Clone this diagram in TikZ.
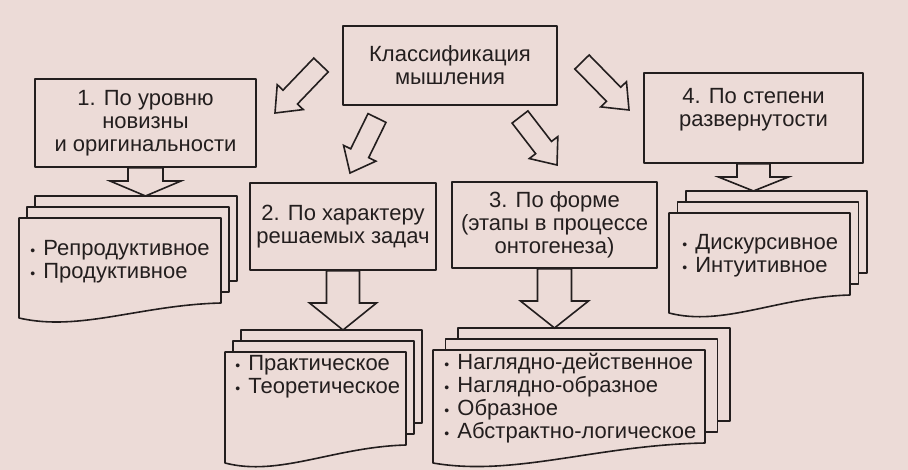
\documentclass[tikz,border=0pt]{standalone}
\usepackage{fontspec}
\setmainfont{Liberation Sans}
\usetikzlibrary{calc}

\definecolor{paper}{RGB}{236,219,215}
\definecolor{ink}{RGB}{35,30,30}

\tikzset{
  blk shaft/.store in=\blkshaft, blk shaft=5pt,
  blk head/.store in=\blkhead, blk head=9pt,
  blk len/.store in=\blklen, blk len=11pt,
  bigarrow/.style={draw=ink,line width=0.8pt,fill=paper,line join=miter,
    to path={($(\tikztostart)!\blkshaft!90:(\tikztotarget)$)
      -- ($(\tikztotarget)!\blklen!(\tikztostart)!\blkshaft!90:(\tikztotarget)$)
      -- ($(\tikztotarget)!\blklen!(\tikztostart)!\blkhead!90:(\tikztotarget)$)
      -- (\tikztotarget)
      -- ($(\tikztotarget)!\blklen!(\tikztostart)!\blkhead!-90:(\tikztotarget)$)
      -- ($(\tikztotarget)!\blklen!(\tikztostart)!\blkshaft!-90:(\tikztotarget)$)
      -- ($(\tikztostart)!\blkshaft!-90:(\tikztotarget)$) -- cycle}},
  sheet/.style={draw=ink,line width=0.8pt,fill=paper}
}

% small bullet of the lists
\newcommand{\itm}{\makebox[6.5pt][l]{\scriptsize\textbullet}}

% three sheets: left, top, right, bottom right, bottom left, step
\newcommand{\docstack}[6]{%
  \draw[sheet] ({#1+2*#6},{#2-22}) rectangle ({#3+2*#6},{#4-22});
  \draw[sheet] ({#1+#6},{#2-11}) rectangle ({#3+#6},{#4-11});
  \draw[sheet] (#1,#2) -- (#3,#2) -- (#3,#4)
    .. controls ({#3-0.4*(#3-#1)},{#4+2}) and ({#1+0.3*(#3-#1)},{#5+14}) .. (#1,#5) -- cycle;
}

\begin{document}
\begin{tikzpicture}[x=0.5pt,y=-0.5pt,line join=round,
  font=\fontsize{11}{11.5}\selectfont,
  box/.style={draw=ink,line width=0.8pt,fill=paper,align=center,inner sep=2pt,text=ink},
  list/.style={anchor=west,align=left,inner sep=0pt,text=ink}]
  \fill[paper] (0,0) rectangle (908,470);
  \useasboundingbox (0,0) rectangle (908,470);

  % boxes
  \node[box,minimum width=107pt,minimum height=39.5pt] (klass) at (450,65.5) {Классификация\\мышления};
  \node[box,minimum width=110.5pt,minimum height=44pt] (b1) at (145.5,123) {1. По уровню\\новизны\\и оригинальности};
  \node[box,minimum width=93pt,minimum height=43.5pt] (b2) at (343,226.5) {2. По характеру\\решаемых задач};
  \node[box,minimum width=102.5pt,minimum height=43pt] (b3) at (554.5,225) {3. По форме\\(этапы в процессе\\онтогенеза)};
  \node[box,minimum width=109.5pt,minimum height=45pt] (b4) at (753.5,118) {};
  \node[align=center,text=ink] (b4text) at (753.5,109.5) {4. По степени\\развернутости};

  % sheets
  \docstack{19}{218}{221}{303}{318}{8}
  \docstack{225}{352}{406}{445}{463}{8}
  \docstack{433}{350}{705}{443}{463}{12.5}
  \docstack{669}{213}{850}{295}{313}{8.5}

  \node[list] (l1) at (30,262) {\itm Репродуктивное\\\itm Продуктивное};
  \node[list] (l2) at (235,376.5) {\itm Практическое\\\itm Теоретическое};
  \node[list] (l3) at (444,398) {\itm Наглядно-действенное\\\itm Наглядно-образное\\\itm Образное\\\itm Абстрактно-логическое};
  \node[list] (l4) at (682,256) {\itm Дискурсивное\\\itm Интуитивное};

  % arrows from the title
  \coordinate (a1) at (321,65);  \coordinate (a1tip) at (275,113);
  \coordinate (a2) at (377,118); \coordinate (a2tip) at (350,173);
  \coordinate (a3) at (520,117); \coordinate (a3tip) at (557,165);
  \coordinate (a4) at (582,62);  \coordinate (a4tip) at (629,110);
  \draw[bigarrow] (a1) to (a1tip);
  \draw[bigarrow] (a2) to (a2tip);
  \draw[bigarrow] (a3) to (a3tip);
  \draw[bigarrow] (a4) to (a4tip);

  % arrows down to the lists
  \coordinate (v1) at (b1.south |- 0,196);
  \coordinate (v2) at (b2.south |- 0,330);
  \coordinate (v3) at (b3.south |- 0,328);
  \coordinate (v4) at (b4.south |- 0,191);
  \draw[bigarrow,blk shaft=8.75pt,blk head=17.75pt,blk len=7.5pt] (b1.south) to (v1);
  \draw[bigarrow,blk shaft=8.25pt,blk head=16.75pt,blk len=13.5pt] (b2.south) to (v2);
  \draw[bigarrow,blk shaft=8.5pt,blk head=17pt,blk len=13.5pt] (b3.south) to (v3);
  \draw[bigarrow,blk shaft=8.25pt,blk head=17.5pt,blk len=7pt] (b4.south) to (v4);
\end{tikzpicture}
\end{document}
